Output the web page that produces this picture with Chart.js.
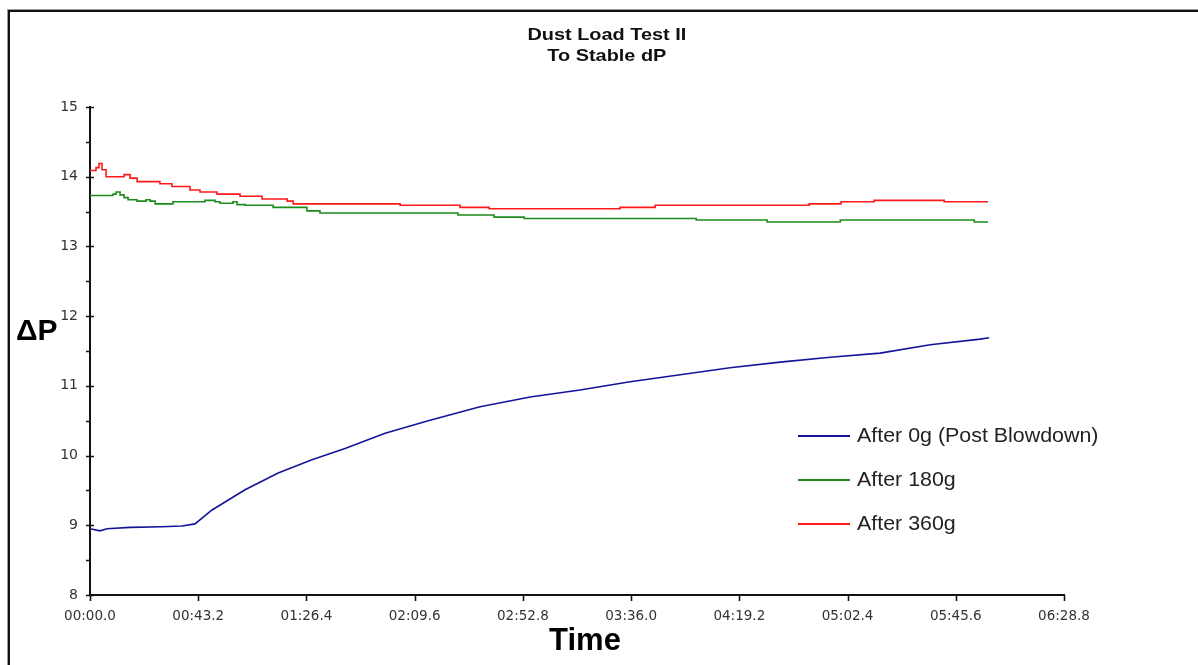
<!DOCTYPE html>
<html>
<head>
<meta charset="utf-8">
<script src="https://cdn.jsdelivr.net/npm/chart.js@4.4.1/dist/chart.umd.min.js"></script>
<style>
  html, body { margin: 0; padding: 0; background: #fff; }
  body { width: 1198px; height: 665px; position: relative; overflow: hidden; font-family: "Liberation Sans", Arial, sans-serif; }
  #frame { position: absolute; left: 8px; top: 10px; width: 1300px; height: 800px; border-left: 2px solid #111; border-top: 2px solid #111; box-shadow: -1px -1px 0 #9a9a9a; }
  #wrap { position: absolute; left: 0; top: 0; width: 1198px; height: 665px; }
  .title { position: absolute; left: 0; width: 1214px; text-align: center; font-weight: bold; font-size: 17px; color: #111; }
  .title span { display: inline-block; transform: scaleX(1.17); }
  #ylab { position: absolute; left: 16px; top: 313px; font-weight: bold; font-size: 30px; color: #000; }
  #xlab { position: absolute; left: 535px; top: 622px; width: 100px; text-align: center; font-weight: bold; font-size: 31px; color: #000; }
  #legend { position: absolute; left: 798px; top: 424px; }
  .lg { position: absolute; left: 0; height: 24px; white-space: nowrap; }
  .lg .ln { position: absolute; left: 0; top: 11px; width: 52px; height: 2px; }
  .lg .tx { position: absolute; left: 59px; top: 0; font-weight: normal; font-size: 20px; color: #222; transform: scaleX(1.07); transform-origin: left center; }
</style>
</head>
<body>
<div id="frame"></div>
<div id="wrap"><canvas id="c" width="1198" height="665"></canvas></div>
<div class="title" style="top:25px"><span>Dust Load Test II</span></div>
<div class="title" style="top:46px"><span>To Stable dP</span></div>
<div id="ylab">ΔP</div>
<div id="xlab">Time</div>
<div id="legend"></div>
<script>
// ---- data (time in seconds, ΔP values) ----
const seriesLabels = ["After 0g (Post Blowdown)", "After 180g", "After 360g"];
const seriesColors = ["#14149a", "#1c8c1c", "#ff1a1a"];

const blueTimes  = [0, 4.0, 6.8, 16.0, 28.7, 36.7, 41.9, 48.7, 61.9, 75.1, 88.6, 101.8, 117.8, 135.0, 155.7, 175.7, 195.6, 215.6, 235.6, 255.5, 275.5, 295.5, 315.4, 335.4, 355.3, 358.9];
const blueValues = [8.95, 8.92, 8.95, 8.97, 8.98, 8.99, 9.02, 9.22, 9.51, 9.75, 9.94, 10.10, 10.32, 10.50, 10.70, 10.84, 10.94, 11.06, 11.16, 11.26, 11.34, 11.41, 11.47, 11.59, 11.67, 11.69];

const greenTimes  = [0, 9.2, 10.4, 12.0, 13.6, 15.2, 18.8, 22.4, 24.0, 26.0, 33.1, 45.9, 49.9, 51.9, 57.1, 58.7, 61.9, 73.1, 86.6, 91.8, 146.9, 161.3, 173.3, 242.0, 270.3, 299.5, 353.0, 358.5];
const greenValues = [13.73, 13.75, 13.78, 13.74, 13.70, 13.67, 13.65, 13.67, 13.65, 13.61, 13.64, 13.66, 13.64, 13.62, 13.64, 13.60, 13.59, 13.56, 13.51, 13.48, 13.45, 13.42, 13.40, 13.38, 13.35, 13.38, 13.35, 13.35];

const redTimes  = [0, 2.4, 3.6, 4.8, 6.4, 13.6, 16.0, 18.8, 27.9, 32.7, 39.9, 43.9, 50.7, 59.9, 68.7, 78.7, 81.1, 123.8, 147.7, 159.3, 211.6, 225.6, 287.1, 299.8, 313.0, 341.0, 358.5];
const redValues = [14.09, 14.13, 14.19, 14.10, 14.00, 14.03, 13.98, 13.93, 13.90, 13.86, 13.81, 13.78, 13.75, 13.72, 13.68, 13.65, 13.61, 13.59, 13.56, 13.54, 13.56, 13.59, 13.61, 13.64, 13.66, 13.64, 13.64];

const xTickValues = [0, 43.2, 86.4, 129.6, 172.8, 216.0, 259.2, 302.4, 345.6, 388.8];
const yTickValues = [8, 8.5, 9, 9.5, 10, 10.5, 11, 11.5, 12, 12.5, 13, 13.5, 14, 14.5, 15];

const toPoints = (t, v) => t.map((x, i) => ({ x: x, y: v[i] }));

function fmtTime(v) {
  const tenths = Math.round(v * 10);
  const m = Math.floor(tenths / 600);
  const rem = tenths - m * 600;
  const s = (rem / 10).toFixed(1);
  return String(m).padStart(2, "0") + ":" + (s.length < 4 ? "0" + s : s);
}

const datasets = [
  { label: seriesLabels[0], data: toPoints(blueTimes, blueValues), borderColor: seriesColors[0], stepped: false },
  { label: seriesLabels[1], data: toPoints(greenTimes, greenValues), borderColor: seriesColors[1], stepped: true },
  { label: seriesLabels[2], data: toPoints(redTimes, redValues), borderColor: seriesColors[2], stepped: true }
].map(d => Object.assign(d, { borderWidth: 1.6, pointRadius: 0, fill: false, tension: 0 }));

const tickMarks = {
  id: "tickMarks",
  afterDraw(chart) {
    const ctx = chart.ctx, xs = chart.scales.x, ys = chart.scales.y;
    ctx.save();
    ctx.strokeStyle = "#111";
    ctx.lineWidth = 1.6;
    ctx.beginPath();
    ys.ticks.forEach(t => {
      const y = Math.round(ys.getPixelForValue(t.value)) + 0.5;
      const major = Number.isInteger(t.value);
      ctx.moveTo(xs.left - 4, y);
      ctx.lineTo(major ? xs.left + 4 : xs.left, y);
    });
    xs.ticks.forEach(t => {
      const x = Math.round(xs.getPixelForValue(t.value)) + 0.5;
      ctx.moveTo(x, ys.bottom);
      ctx.lineTo(x, ys.bottom + 6);
    });
    ctx.stroke();
    ctx.restore();
  }
};

new Chart(document.getElementById("c"), {
  type: "line",
  data: { datasets: datasets },
  options: {
    responsive: false,
    animation: false,
    devicePixelRatio: 1,
    layout: { padding: { left: 0, right: 134, top: 107, bottom: 0 } },
    plugins: { legend: { display: false }, title: { display: false }, tooltip: { enabled: false } },
    scales: {
      x: {
        type: "linear", min: 0, max: 388.8,
        afterBuildTicks: a => { a.ticks = xTickValues.map(v => ({ value: v })); },
        afterFit: a => { a.height = 70; },
        grid: { display: false, drawTicks: false },
        border: { display: true, color: "#111", width: 2 },
        ticks: { padding: 13, color: "#333", font: { family: "DejaVu Sans", size: 13.5 }, maxRotation: 0, autoSkip: false, callback: v => fmtTime(v) }
      },
      y: {
        type: "linear", min: 8, max: 15,
        afterBuildTicks: a => { a.ticks = yTickValues.map(v => ({ value: v })); },
        afterFit: a => { a.width = 90; },
        grid: { display: false, drawTicks: false },
        border: { display: true, color: "#111", width: 2 },
        ticks: { padding: 12, color: "#333", font: { family: "DejaVu Sans", size: 14 }, autoSkip: false, callback: v => Number.isInteger(v) ? String(v) : "" }
      }
    }
  },
  plugins: [tickMarks]
});

// HTML legend built from the datasets
const lg = document.getElementById("legend");
datasets.forEach((d, i) => {
  const row = document.createElement("div");
  row.className = "lg";
  row.style.top = (i * 44) + "px";
  const line = document.createElement("div");
  line.className = "ln";
  line.style.backgroundColor = d.borderColor;
  const txt = document.createElement("div");
  txt.className = "tx";
  txt.textContent = d.label;
  row.appendChild(line); row.appendChild(txt);
  lg.appendChild(row);
});
</script>
</body>
</html>
